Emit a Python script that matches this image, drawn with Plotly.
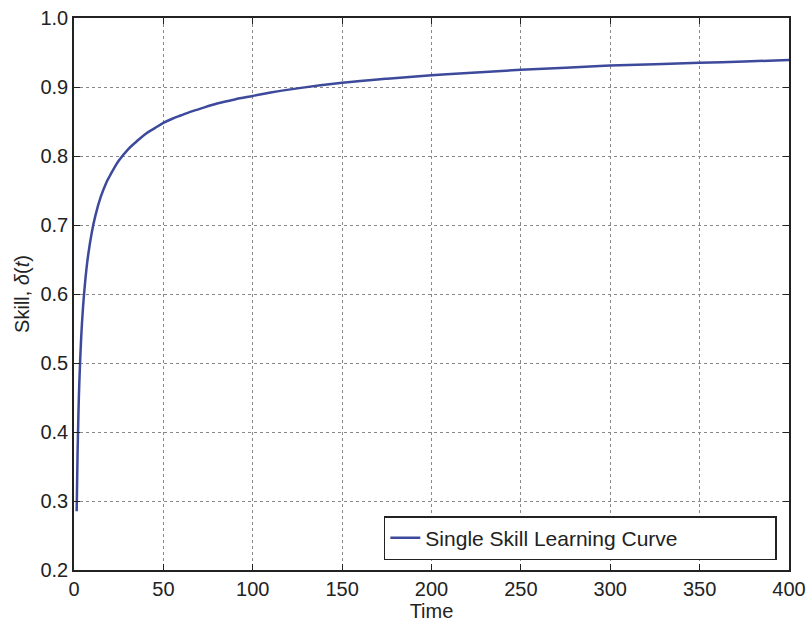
import plotly.graph_objects as go

time = [1.5, 2, 2.5, 3, 4, 5, 6, 7, 8, 10, 12, 15, 18, 20, 25, 30, 35, 40, 45, 50, 55, 60,
        65, 70, 80, 90, 100, 110, 125, 150, 175, 200, 225, 250, 275, 300, 325, 350, 375, 400]
skill = [0.285, 0.371, 0.429, 0.473, 0.536, 0.579, 0.611, 0.637, 0.658, 0.690, 0.714,
         0.741, 0.761, 0.771, 0.793, 0.809, 0.821, 0.832, 0.840, 0.848, 0.854, 0.859,
         0.864, 0.868, 0.876, 0.882, 0.887, 0.892, 0.898, 0.906, 0.912, 0.917, 0.921,
         0.925, 0.928, 0.931, 0.933, 0.935, 0.937, 0.939]
x_ticks = [0, 50, 100, 150, 200, 250, 300, 350, 400]
y_ticks = [0.2, 0.3, 0.4, 0.5, 0.6, 0.7, 0.8, 0.9, 1.0]

FONT = "Liberation Sans, Arial, sans-serif"
FS = 20

fig = go.Figure()
fig.add_trace(go.Scatter(
    x=time, y=skill, mode="lines", line=dict(color="#3d4a9c", width=2.5, shape="spline", smoothing=1.0),
    name="Single Skill Learning Curve"))

axis_common = dict(
    showline=True, linecolor="#222", linewidth=1.5, mirror="ticks",
    ticks="inside", ticklen=6, tickwidth=1.2, tickcolor="#222",
    showgrid=True, gridcolor="#888", griddash="dot", gridwidth=1,
    zeroline=False, automargin=False,
    tickfont=dict(size=FS, color="#222", family=FONT),
)

fig.update_xaxes(range=[0, 400], tickvals=x_ticks, ticktext=[str(v) for v in x_ticks],
                 title=dict(text="Time", font=dict(size=FS, family=FONT, color="#222"), standoff=5),
                 **axis_common)
fig.update_yaxes(range=[0.2, 1.0], tickvals=y_ticks, ticktext=[f"{v:.1f}" for v in y_ticks],
                 title=dict(text="Skill, <i>δ</i>(<i>t</i>)", font=dict(size=FS, family=FONT, color="#222"), standoff=5),
                 **axis_common)

fig.update_layout(
    width=806, height=627,
    margin=dict(l=74, r=17, t=18, b=57),
    plot_bgcolor="white", paper_bgcolor="white",
    font=dict(family=FONT, color="#222"),
    legend=dict(x=0.983, y=0.018, xanchor="right", yanchor="bottom",
                orientation="h",
                bordercolor="#222", borderwidth=1.5, bgcolor="white",
                font=dict(size=21, family=FONT, color="#222"),
                entrywidth=345, entrywidthmode="pixels"),
    showlegend=True,
)

fig.write_html("out.html")
